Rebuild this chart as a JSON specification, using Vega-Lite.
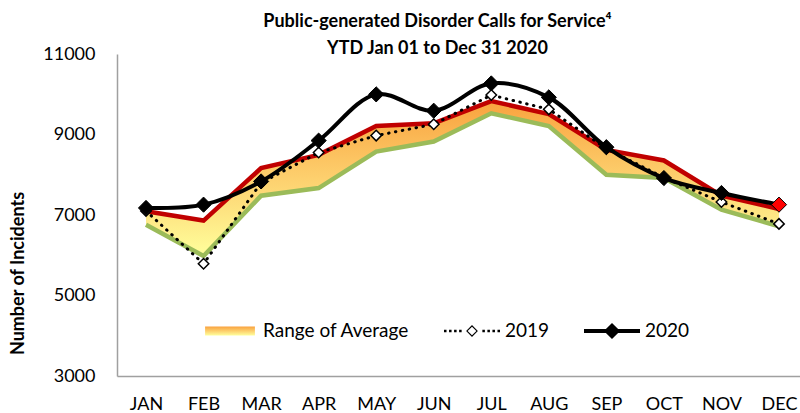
{
  "$schema": "https://vega.github.io/schema/vega-lite/v6.json",
  "width": 683,
  "height": 322,
  "autosize": {"type": "none"},
  "padding": {"left": 117, "top": 54, "right": 0, "bottom": 37},
  "background": "white",
  "config": {"view": {"stroke": null}, "font": "Lato"},
  "title": {
    "text": ["Public-generated Disorder Calls for Service⁴", "YTD Jan 01 to Dec 31 2020"],
    "font": "Lato", "fontSize": 18, "fontWeight": "bold", "color": "#000",
    "anchor": "middle", "dx": -21, "offset": -13, "lineHeight": 27
  },
  "data": {
    "values": [
      {"month": "JAN", "low": 6760, "high": 7091, "y2019": 7100, "y2020": 7175},
      {"month": "FEB", "low": 5980, "high": 6861, "y2019": 5789, "y2020": 7257},
      {"month": "MAR", "low": 7480, "high": 8165, "y2019": 7800, "y2020": 7834},
      {"month": "APR", "low": 7670, "high": 8494, "y2019": 8552, "y2020": 8848},
      {"month": "MAY", "low": 8577, "high": 9212, "y2019": 8973, "y2020": 9997},
      {"month": "JUN", "low": 8824, "high": 9279, "y2019": 9254, "y2020": 9591},
      {"month": "JUL", "low": 9526, "high": 9831, "y2019": 9980, "y2020": 10269},
      {"month": "AUG", "low": 9212, "high": 9509, "y2019": 9625, "y2020": 9923},
      {"month": "SEP", "low": 8000, "high": 8618, "y2019": 8650, "y2020": 8685},
      {"month": "OCT", "low": 7918, "high": 8354, "y2019": 7930, "y2020": 7918},
      {"month": "NOV", "low": 7133, "high": 7480, "y2019": 7323, "y2020": 7547},
      {"month": "DEC", "low": 6720, "high": 7150, "y2019": 6779, "y2020": 7257}
    ]
  },
  "encoding": {
    "x": {
      "field": "month", "type": "ordinal",
      "sort": ["JAN","FEB","MAR","APR","MAY","JUN","JUL","AUG","SEP","OCT","NOV","DEC"],
      "scale": {"type": "point", "padding": 0.4346, "align": 0.58},
      "axis": {
        "title": null, "labelAngle": 0, "ticks": false, "labelPadding": 19,
        "labelFont": "Lato", "labelFontSize": 18, "labelColor": "#000",
        "domainColor": "#a0a0a0", "domainWidth": 1.5, "grid": false
      }
    }
  },
  "layer": [
    {
      "mark": {"type": "area", "interpolate": "linear"},
      "encoding": {
        "y": {
          "field": "low", "type": "quantitative",
          "scale": {"domain": [3000, 11000], "nice": false, "zero": false},
          "axis": {
            "values": [3000, 5000, 7000, 9000, 11000], "format": "d",
            "ticks": false, "grid": false, "labelPadding": 22,
            "labelFont": "Lato", "labelFontSize": 18, "labelColor": "#000",
            "domainColor": "#a0a0a0", "domainWidth": 1.5,
            "title": "Number of Incidents", "titleFont": "Lato", "titleFontSize": 18,
            "titleFontWeight": "bold", "titleColor": "#000",
            "titleAngle": -90, "titleAlign": "center", "titleBaseline": "middle",
            "titleX": -99, "titleY": 219
          }
        },
        "y2": {"field": "high"},
        "fill": {
          "datum": "Range of Average", "type": "nominal",
          "scale": {
            "domain": ["Range of Average", "2019", "2020"],
            "range": [
              {"signal": "{gradient: 'linear', x1: 0, y1: 0, x2: 0, y2: 1, stops: [{offset: 0, color: '#f9a23e'}, {offset: 0.5, color: '#fdd06e'}, {offset: 1, color: '#ffff9c'}]}"},
              "#000", "#000"
            ]
          },
          "legend": {
            "title": null, "orient": "none", "legendX": 85, "legendY": 249,
            "direction": "horizontal", "padding": 0,
            "symbolSize": 3136, "labelOffset": 5, "columnPadding": 34,
            "labelFont": "Lato", "labelFontSize": 19, "labelColor": "#000", "labelLimit": 300,
            "encode": {
              "symbols": {
                "update": {
                  "shape": {"signal": "datum.value === 'Range of Average' ? 'M-0.89,-0.16L0.89,-0.16L0.89,0.16L-0.89,0.16Z' : datum.value === '2019' ? 'M-1,-0.045L-0.91,-0.045L-0.91,0.045L-1,0.045Z M-0.82,-0.045L-0.73,-0.045L-0.73,0.045L-0.82,0.045Z M-0.64,-0.045L-0.55,-0.045L-0.55,0.045L-0.64,0.045Z M-0.46,-0.045L-0.37,-0.045L-0.37,0.045L-0.46,0.045Z M0,-0.21L0.21,0L0,0.21L-0.21,0Z M0,-0.155L-0.155,0L0,0.155L0.155,0Z M0.37,-0.045L0.46,-0.045L0.46,0.045L0.37,0.045Z M0.55,-0.045L0.64,-0.045L0.64,0.045L0.55,0.045Z M0.73,-0.045L0.82,-0.045L0.82,0.045L0.73,0.045Z M0.91,-0.045L1,-0.045L1,0.045L0.91,0.045Z' : 'M-1,-0.07L1,-0.07L1,0.07L-1,0.07Z M0,-0.29L0.29,0L0,0.29L-0.29,0Z'"},
                  "strokeWidth": {"value": 0},
                  "opacity": {"value": 1},
                  "fillOpacity": {"value": 1}
                }
              }
            }
          }
        }
      }
    },
    {
      "mark": {"type": "line", "color": "#9bbb59", "strokeWidth": 4.5},
      "encoding": {"y": {"field": "low", "type": "quantitative"}}
    },
    {
      "mark": {"type": "line", "color": "#c00000", "strokeWidth": 4.5},
      "encoding": {"y": {"field": "high", "type": "quantitative"}}
    },
    {
      "mark": {"type": "line", "color": "#000", "strokeWidth": 3, "strokeDash": [0.5, 6.5], "strokeCap": "round"},
      "encoding": {"y": {"field": "y2019", "type": "quantitative"}}
    },
    {
      "mark": {"type": "point", "shape": "diamond", "filled": true, "fill": "#fff", "stroke": "#000", "strokeWidth": 1.5, "size": 110, "opacity": 1},
      "encoding": {"y": {"field": "y2019", "type": "quantitative"}}
    },
    {
      "mark": {"type": "line", "color": "#000", "strokeWidth": 4, "interpolate": "catmull-rom"},
      "encoding": {"y": {"field": "y2020", "type": "quantitative"}}
    },
    {
      "mark": {"type": "point", "shape": "diamond", "filled": true, "stroke": "#000", "strokeWidth": 1, "size": 230, "opacity": 1},
      "encoding": {
        "y": {"field": "y2020", "type": "quantitative"},
        "fill": {"condition": {"test": "datum.month === 'DEC'", "value": "#ff0000"}, "value": "#000"}
      }
    }
  ]
}
